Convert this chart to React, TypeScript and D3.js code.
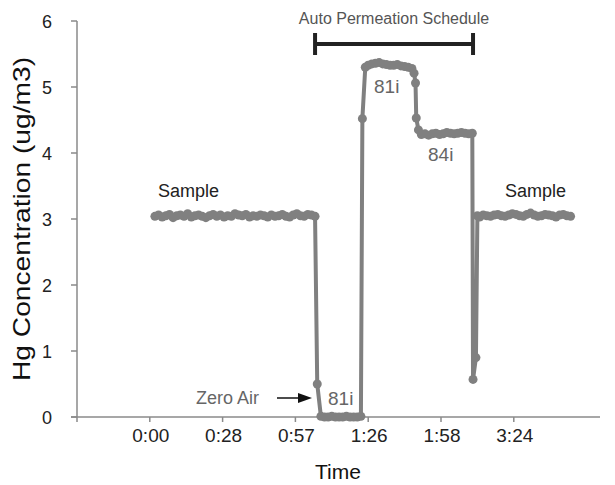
import React, { useRef, useEffect } from 'react';
import * as d3 from 'd3';

// x is in "tick units": one labelled tick every 10 units
const tickPositions = [10, 20, 30, 40, 50, 60];
const tickLabels = ['0:00', '0:28', '0:57', '1:26', '1:58', '3:24'];
const yTicks = [0, 1, 2, 3, 4, 5, 6];

// sample air before the calibration
const sampleBefore = [3.04, 3.06, 3.03, 3.05, 3.07, 3.02, 3.05, 3.06, 3.04, 3.08, 3.03, 3.05, 3.06, 3.04, 3.02,
  3.05, 3.07, 3.04, 3.06, 3.03, 3.05, 3.04, 3.08, 3.06, 3.05, 3.07, 3.03, 3.05, 3.04, 3.06, 3.05, 3.03,
  3.06, 3.04, 3.05, 3.07, 3.04, 3.03, 3.06, 3.08, 3.05, 3.04, 3.07, 3.06, 3.04];
// zero air
const zeroAir = [0.01, 0, 0, 0.01, 0, 0, 0, 0.01, 0, 0, 0, 0.01];
// 81i span
const span81 = [5.33, 5.35, 5.36, 5.37, 5.35, 5.34, 5.33, 5.33, 5.34, 5.32, 5.31, 5.3, 5.28];
// 84i span
const span84 = [4.28, 4.29, 4.27, 4.29, 4.3, 4.28, 4.29, 4.31, 4.3, 4.29, 4.3, 4.31, 4.3, 4.29, 4.3];
// sample air after
const sampleAfter = [3.03, 3.06, 3.05, 3.04, 3.06, 3.07, 3.05, 3.04, 3.06, 3.08, 3.07, 3.05, 3.04, 3.07,
  3.09, 3.06, 3.04, 3.05, 3.07, 3.06, 3.05, 3.03, 3.06, 3.07, 3.05, 3.04];

const segments = [
  { start: 10.7, step: 0.5, values: sampleBefore },
  { start: 33.5, step: 0.5, values: zeroAir },
  { start: 40.0, step: 0.5, values: span81 },
  { start: 47.3, step: 0.5, values: span84 },
  { start: 55.3, step: 0.5, values: sampleAfter },
];
// single readings taken while the source switched
const transitions: [number, number][] = [
  [33.0, 0.5], [39.2, 4.52], [39.6, 5.3], [46.3, 5.21], [46.5, 5.06], [46.6, 4.53], [46.9, 4.35],
  [54.4, 0.57], [54.8, 0.9], [55.0, 3.05],
];

const W = 615;
const H = 485;

const App = () => {
  const svgRef = useRef<SVGSVGElement>(null);

  useEffect(() => {
    const svg = d3.select(svgRef.current);
    svg.selectAll('*').remove();

    const data: [number, number][] = [];
    segments.forEach(s => s.values.forEach((v, i) => data.push([s.start + i * s.step, v])));
    transitions.forEach(t => data.push(t));
    data.sort((a, b) => a[0] - b[0]);

    const x = d3.scaleLinear().domain([0, 70]).range([77, 586.6]);
    const y = d3.scaleLinear().domain([0, 6]).range([417, 21]);

    const axisColor = '#8a8a8a';
    const font = 'Liberation Sans, Arial, sans-serif';
    const narrow = 'Liberation Sans Narrow, Arial Narrow, sans-serif';

    // y axis
    svg.append('line')
      .attr('x1', x(0)).attr('x2', x(0))
      .attr('y1', y(6)).attr('y2', y(0))
      .attr('stroke', axisColor).attr('stroke-width', 1.5);
    svg.selectAll('.ytick')
      .data(yTicks)
      .enter()
      .append('line')
      .attr('x1', x(0) - 6).attr('x2', x(0))
      .attr('y1', d => y(d)).attr('y2', d => y(d))
      .attr('stroke', axisColor).attr('stroke-width', 1.5);
    svg.selectAll('.ylab')
      .data(yTicks)
      .enter()
      .append('text')
      .attr('x', 52)
      .attr('y', d => y(d) + 6.5)
      .attr('text-anchor', 'end')
      .attr('font-family', font)
      .attr('font-size', 18)
      .attr('fill', '#222')
      .text(d => d);

    // x axis
    svg.append('line')
      .attr('x1', x(0) - 6).attr('x2', 600)
      .attr('y1', y(0)).attr('y2', y(0))
      .attr('stroke', axisColor).attr('stroke-width', 1.5);
    svg.selectAll('.xtick')
      .data([0, ...tickPositions])
      .enter()
      .append('line')
      .attr('x1', d => x(d)).attr('x2', d => x(d))
      .attr('y1', y(0)).attr('y2', y(0) + 5)
      .attr('stroke', axisColor).attr('stroke-width', 1.5);
    svg.selectAll('.xlab')
      .data(tickPositions)
      .enter()
      .append('text')
      .attr('x', d => x(d) + 1)
      .attr('y', 442)
      .attr('text-anchor', 'middle')
      .attr('font-family', font)
      .attr('font-size', 19)
      .attr('fill', '#222')
      .text((d, i) => tickLabels[i]);

    // axis titles
    svg.append('text')
      .attr('transform', `translate(30, ${y(3)}) rotate(-90)`)
      .attr('text-anchor', 'middle')
      .attr('font-family', font)
      .attr('font-size', 24)
      .attr('textLength', 324)
      .attr('lengthAdjust', 'spacingAndGlyphs')
      .attr('fill', '#111')
      .text('Hg Concentration (ug/m3)');
    svg.append('text')
      .attr('x', 338).attr('y', 479)
      .attr('text-anchor', 'middle')
      .attr('font-family', font)
      .attr('font-size', 21)
      .attr('fill', '#111')
      .text('Time');

    // data line + markers
    const line = d3.line<[number, number]>()
      .x(d => x(d[0]))
      .y(d => y(d[1]));
    svg.append('path')
      .datum(data)
      .attr('d', line)
      .attr('fill', 'none')
      .attr('stroke', '#808080')
      .attr('stroke-width', 4)
      .attr('stroke-linejoin', 'round');
    svg.selectAll('.pt')
      .data(data)
      .enter()
      .append('circle')
      .attr('cx', d => x(d[0]))
      .attr('cy', d => y(d[1]))
      .attr('r', 4.5)
      .attr('fill', '#808080');

    // schedule bracket
    const bx1 = x(32.7), bx2 = x(54.4), by = 44;
    svg.append('line')
      .attr('x1', bx1).attr('x2', bx2).attr('y1', by).attr('y2', by)
      .attr('stroke', '#222').attr('stroke-width', 4);
    [bx1, bx2].forEach(bx => {
      svg.append('line')
        .attr('x1', bx).attr('x2', bx).attr('y1', by - 11).attr('y2', by + 11)
        .attr('stroke', '#222').attr('stroke-width', 4);
    });
    svg.append('text')
      .attr('x', (bx1 + bx2) / 2).attr('y', 24)
      .attr('text-anchor', 'middle')
      .attr('font-family', narrow)
      .attr('font-size', 16)
      .attr('fill', '#555')
      .text('Auto Permeation Schedule');

    // annotations
    const note = (tx: number, ty: number, t: string, f: string, size: number, color: string, anchor = 'start') =>
      svg.append('text')
        .attr('x', tx).attr('y', ty)
        .attr('text-anchor', anchor)
        .attr('font-family', f)
        .attr('font-size', size)
        .attr('fill', color)
        .text(t);
    note(158, 197, 'Sample', font, 18, '#222');
    note(505, 197, 'Sample', font, 18, '#222');
    note(374, 93, '81i', narrow, 19, '#666');
    note(428, 161, '84i', narrow, 19, '#666');
    note(328, 405, '81i', narrow, 19, '#666');
    note(259, 404, 'Zero Air', narrow, 18, '#666', 'end');

    // arrow to zero air reading
    svg.append('line')
      .attr('x1', 277).attr('x2', 300).attr('y1', 398).attr('y2', 398)
      .attr('stroke', '#111').attr('stroke-width', 1.5);
    svg.append('path')
      .attr('d', 'M298,393 L312,398 L298,403 Z')
      .attr('fill', '#111');
  }, []);

  return (
    <svg
      ref={svgRef}
      width={W}
      height={H}
      style={{ position: 'absolute', left: 0, top: 0, background: '#fff' }}
    />
  );
};

export default App;
